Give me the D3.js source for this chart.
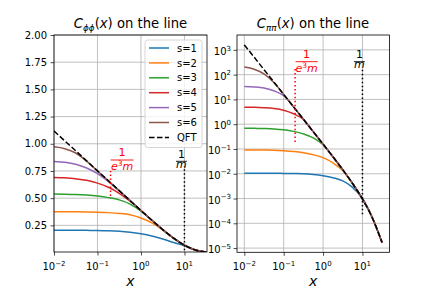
<!DOCTYPE html>
<html>
<head>
<meta charset="utf-8">
<script src="https://cdn.jsdelivr.net/npm/d3@7"></script>
<style>
  body { margin: 0; background: #fff; }
  text { font-family: "DejaVu Sans"; }
</style>
</head>
<body>
<script>
// sample positions along x (shared by every curve)
const xs = [0.01, 0.0178, 0.0316, 0.0562, 0.1, 0.178, 0.316, 0.562, 1, 1.78, 3.16, 5.62, 10, 17.8, 31.4];

// left panel: C_phiphi(x)
const phi1 = [0.205, 0.205, 0.205, 0.204, 0.203, 0.200, 0.195, 0.186, 0.172, 0.152, 0.125, 0.093, 0.063, 0.024, 0.0046];
const phi2 = [0.375, 0.375, 0.374, 0.373, 0.371, 0.367, 0.360, 0.347, 0.317, 0.272, 0.209, 0.131, 0.067, 0.024, 0.0046];
const phi3 = [0.538, 0.537, 0.534, 0.528, 0.519, 0.505, 0.484, 0.445, 0.380, 0.297, 0.211, 0.132, 0.067, 0.024, 0.0046];
const phi4 = [0.691, 0.687, 0.678, 0.664, 0.638, 0.600, 0.545, 0.472, 0.386, 0.297, 0.211, 0.132, 0.067, 0.024, 0.0046];
const phi5 = [0.838, 0.830, 0.812, 0.777, 0.725, 0.652, 0.567, 0.477, 0.386, 0.297, 0.211, 0.132, 0.067, 0.024, 0.0046];
const phi6 = [0.972, 0.955, 0.915, 0.840, 0.750, 0.660, 0.569, 0.477, 0.386, 0.297, 0.211, 0.132, 0.067, 0.024, 0.0046];
const phiQFT = [1.118, 1.026, 0.935, 0.843, 0.751, 0.660, 0.569, 0.477, 0.386, 0.297, 0.211, 0.132, 0.067, 0.024, 0.0046];

// right panel: C_pipi(x)
const pi1 = [1.047e-2, 1.047e-2, 1.047e-2, 1.047e-2, 1.035e-2, 1.023e-2, 1.0e-2, 9.33e-3, 8.32e-3, 6.92e-3, 5.13e-3, 2.82e-3, 1.0e-3, 1.70e-4, 1.70e-5];
const pi2 = [9.12e-2, 9.12e-2, 9.02e-2, 8.91e-2, 8.51e-2, 7.94e-2, 7.08e-2, 5.89e-2, 4.47e-2, 2.75e-2, 1.35e-2, 3.98e-3, 9.55e-4, 1.70e-4, 1.70e-5];
const pi3 = [0.684, 0.679, 0.668, 0.646, 0.596, 0.513, 0.407, 0.282, 0.148, 4.79e-2, 1.45e-2, 4.03e-3, 9.58e-4, 1.68e-4, 1.68e-5];
const pi4 = [4.84, 4.79, 4.62, 4.32, 3.67, 2.63, 1.55, 0.495, 0.157, 4.85e-2, 1.45e-2, 4.03e-3, 9.58e-4, 1.68e-4, 1.68e-5];
const pi5 = [33.1, 32.0, 29.2, 22.4, 14.1, 5.01, 1.585, 0.500, 0.157, 4.85e-2, 1.45e-2, 4.03e-3, 9.58e-4, 1.68e-4, 1.68e-5];
const pi6 = [204, 166, 107, 47.9, 15.9, 5.03, 1.59, 0.500, 0.157, 4.85e-2, 1.45e-2, 4.03e-3, 9.58e-4, 1.68e-4, 1.68e-5];
const piQFT = [1590, 504, 159, 50.4, 15.9, 5.03, 1.59, 0.500, 0.157, 4.85e-2, 1.45e-2, 4.03e-3, 9.58e-4, 1.68e-4, 1.68e-5];

const labels = ["s=1", "s=2", "s=3", "s=4", "s=5", "s=6", "QFT"];
const colors = ["#1f77b4", "#ff7f0e", "#2ca02c", "#d62728", "#9467bd", "#8c564b"];

const yTicksL = [0.25, 0.5, 0.75, 1.0, 1.25, 1.5, 1.75, 2.0];
const xExps = [-2, -1, 0, 1];
const yExpsR = [-5, -4, -3, -2, -1, 0, 1, 2, 3];

// reference markers: x position and vertical extent
const markRedL = {x: 0.2, lo: 0.52, hi: 0.75};
const markBlkL = {x: 10, lo: 0.02, hi: 0.79};
const markRedR = {x: 0.195, lo: 0.19, hi: 190};
const markBlkR = {x: 10, lo: 2.3e-4, hi: 180};

const svg = d3.select("body").append("svg")
  .attr("width", 432)
  .attr("height", 288);

const xL = d3.scaleLog().domain([0.01, 33]).range([54, 207]);
const yL = d3.scaleLinear().domain([0.005, 2]).range([252, 35]);
const xR = d3.scaleLog().domain([Math.pow(10, -2.186), Math.pow(10, 1.687)]).range([237, 389.5]);
const yR = d3.scaleLog().domain([Math.pow(10, -5.17), Math.pow(10, 3.6)]).range([252.3, 35]);

function minorLog(scale) {
  const [a, b] = scale.domain();
  const out = [];
  for (let e = -7; e <= 4; e++) {
    for (let k = 2; k <= 9; k++) {
      const v = k * Math.pow(10, e);
      if (v >= a && v <= b) out.push(v);
    }
  }
  return out;
}

function sci(sel, e) {
  sel.text(null);
  sel.append("tspan").text("10");
  sel.append("tspan").attr("font-size", 7).attr("dy", -4.3)
    .text(e < 0 ? "\u2212" + (-e) : "" + e);
}

function panel(x, y, series, logY) {
  const [x0, x1] = x.range();
  const [y1, y0] = y.range();
  const g = svg.append("g");
  const id = "clip" + Math.round(x0);
  svg.append("clipPath").attr("id", id).append("rect")
    .attr("x", x0).attr("y", y0).attr("width", x1 - x0).attr("height", y1 - y0);

  // grid
  const xg = xExps.map(e => Math.pow(10, e));
  const yg = logY ? yExpsR.map(e => Math.pow(10, e)) : yTicksL;
  g.selectAll(".gx").data(xg).enter().append("line")
    .attr("x1", d => x(d)).attr("x2", d => x(d)).attr("y1", y0).attr("y2", y1)
    .attr("stroke", "#b0b0b0").attr("stroke-width", 0.8);
  g.selectAll(".gy").data(yg).enter().append("line")
    .attr("x1", x0).attr("x2", x1).attr("y1", d => y(d)).attr("y2", d => y(d))
    .attr("stroke", "#b0b0b0").attr("stroke-width", 0.8);

  const line = d3.line()
    .x((d, i) => x(xs[i]))
    .y(d => y(d))
    .curve(d3.curveMonotoneX);

  const gc = g.append("g").attr("clip-path", `url(#${id})`);
  series.forEach((s, i) => {
    gc.append("path")
      .attr("d", line(s))
      .attr("fill", "none")
      .attr("stroke", i < 6 ? colors[i] : "#000")
      .attr("stroke-width", 1.5)
      .attr("stroke-dasharray", i < 6 ? null : "5.55,2.4");
  });
  return g;
}

function axes(g, x, y, logY) {
  const [x0, x1] = x.range();
  const [y1, y0] = y.range();

  // x axis
  const ax = g.append("g").attr("transform", `translate(0,${y1})`);
  ax.call(d3.axisBottom(x).tickValues(minorLog(x)).tickSize(2).tickFormat(""));
  ax.call(d3.axisBottom(x).tickValues(xExps.map(e => Math.pow(10, e))).tickSize(3.5).tickFormat(""));
  ax.select(".domain").remove();
  ax.selectAll("line").attr("stroke-width", 0.7);
  g.selectAll(".xl").data(xExps).enter().append("text")
    .attr("x", d => x(Math.pow(10, d)))
    .attr("y", y1 + 18)
    .attr("text-anchor", "middle")
    .attr("font-size", 10)
    .each(function (d) { sci(d3.select(this), d); });

  // y axis
  const ay = g.append("g").attr("transform", `translate(${x0},0)`);
  if (logY) {
    ay.call(d3.axisLeft(y).tickValues(minorLog(y)).tickSize(2).tickFormat(""));
    ay.call(d3.axisLeft(y).tickValues(yExpsR.map(e => Math.pow(10, e))).tickSize(3.5).tickFormat(""));
    g.selectAll(".yl").data(yExpsR).enter().append("text")
      .attr("x", x0 - 6)
      .attr("y", d => y(Math.pow(10, d)) + 5)
      .attr("text-anchor", "end")
      .attr("font-size", 10)
      .each(function (d) { sci(d3.select(this), d); });
  } else {
    ay.call(d3.axisLeft(y).tickValues(yTicksL).tickSize(3.5).tickPadding(3.5)
      .tickFormat(d3.format(".2f")));
    ay.selectAll("text").attr("font-size", 10).attr("font-family", "DejaVu Sans").attr("fill", "#000");
  }
  ay.select(".domain").remove();
  ay.selectAll("line").attr("stroke-width", 0.7);

  g.append("rect")
    .attr("x", x0).attr("y", y0).attr("width", x1 - x0).attr("height", y1 - y0)
    .attr("fill", "none").attr("stroke", "#000").attr("stroke-width", 0.8);

  // x label
  g.append("text")
    .attr("x", (x0 + x1) / 2).attr("y", 286)
    .attr("text-anchor", "middle")
    .attr("font-size", 14)
    .attr("font-style", "italic")
    .text("x");
}

function title(cx, sub) {
  const t = svg.append("text")
    .attr("x", cx).attr("y", 28)
    .attr("text-anchor", "middle")
    .attr("font-size", 13.2);
  t.append("tspan").attr("font-style", "italic").text("C");
  t.append("tspan").attr("font-style", "italic").attr("font-size", 8.8).attr("dy", 2.6).text(sub);
  t.append("tspan").attr("dy", -2.6).text("(");
  t.append("tspan").attr("font-style", "italic").text("x");
  t.append("tspan").text(") on the line");
}

function marker(x, y, m, color) {
  svg.append("line")
    .attr("x1", x(m.x)).attr("x2", x(m.x))
    .attr("y1", y(m.lo)).attr("y2", y(m.hi))
    .attr("stroke", color).attr("stroke-width", 1.5)
    .attr("stroke-dasharray", "1.5,2.475");
}

// fraction 1/denominator, drawn as one text with two stacked rows and a bar
function frac(cx, barY, half, denom, color) {
  const g = svg.append("g").attr("fill", color);
  g.append("line").attr("x1", cx - half).attr("x2", cx + half)
    .attr("y1", barY).attr("y2", barY).attr("stroke", color).attr("stroke-width", 0.9);
  const t = g.append("text").attr("text-anchor", "middle").attr("font-size", 11);
  t.append("tspan").attr("x", cx).attr("y", barY - 3.6).text("1");
  if (denom === "e3m") {
    t.append("tspan").attr("x", cx).attr("y", barY + 10).attr("font-style", "italic").text("e");
    t.append("tspan").attr("font-size", 7.5).attr("dy", -4).text("3");
    t.append("tspan").attr("dy", 4).attr("font-style", "italic").text("m");
  } else {
    t.append("tspan").attr("x", cx).attr("y", barY + 6.5).attr("font-style", "italic").text("m");
  }
}

const gLeft = panel(xL, yL, [phi1, phi2, phi3, phi4, phi5, phi6, phiQFT], false);
const gRight = panel(xR, yR, [pi1, pi2, pi3, pi4, pi5, pi6, piQFT], true);

marker(xL, yL, markRedL, "#ff0000");
marker(xL, yL, markBlkL, "#000");
marker(xR, yR, markRedR, "#ff0000");
marker(xR, yR, markBlkR, "#000");

axes(gLeft, xL, yL, false);
axes(gRight, xR, yR, true);

title(130.5, "\u03d5\u03d5");
title(313, "\u03c0\u03c0");

frac(xL(markRedL.x) + 11.5, 160, 11.5, "e3m", "#ff0000");
frac(xL(markBlkL.x) - 3, 161.3, 5.5, "m", "#000");
frac(xR(markRedR.x) + 11.5, 61.7, 11, "e3m", "#ff0000");
frac(xR(markBlkR.x) - 3, 61.7, 5.5, "m", "#000");

// legend (left panel, upper right)
const lg = svg.append("g");
lg.append("rect")
  .attr("x", 145).attr("y", 40).attr("width", 57).attr("height", 107.5)
  .attr("rx", 2.5)
  .attr("fill", "#fff").attr("fill-opacity", 0.8)
  .attr("stroke", "#cccccc").attr("stroke-width", 0.8);
labels.forEach((lab, i) => {
  const yy = 48 + i * 14.9;
  lg.append("line")
    .attr("x1", 149).attr("x2", 169).attr("y1", yy).attr("y2", yy)
    .attr("stroke", i < 6 ? colors[i] : "#000").attr("stroke-width", 1.5)
    .attr("stroke-dasharray", i < 6 ? null : "5.55,2.4");
  lg.append("text")
    .attr("x", 177).attr("y", yy + 3.6)
    .attr("font-size", 10)
    .text(lab);
});
</script>
</body>
</html>
